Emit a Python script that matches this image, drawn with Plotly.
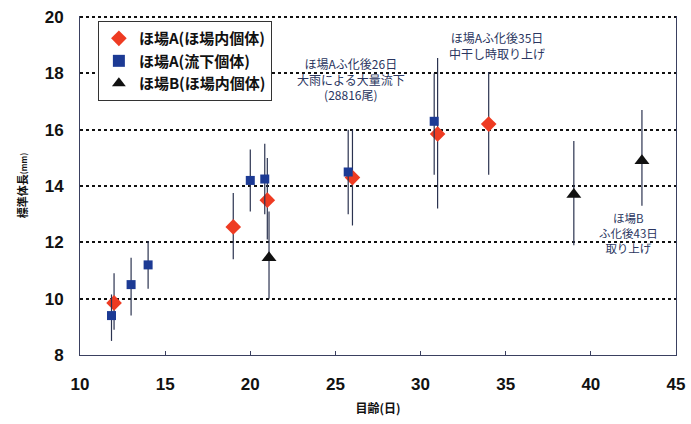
import plotly.graph_objects as go

# ---- data ----
a_in_x = [12.0, 19.0, 21.0, 26.0, 31.0, 34.0]
a_in_y = [9.85, 12.55, 13.5, 14.3, 15.85, 16.2]
a_in_hi = [10.9, 13.75, 15.0, 16.0, 18.55, 18.05]
a_in_lo = [8.9, 11.4, 12.1, 12.6, 13.2, 14.4]

a_out_x = [11.85, 13.0, 14.0, 20.0, 20.85, 25.75, 30.8]
a_out_y = [9.4, 10.5, 11.2, 14.2, 14.25, 14.5, 16.3]
a_out_hi = [10.15, 11.45, 12.05, 15.3, 15.5, 16.0, 18.0]
a_out_lo = [8.5, 9.4, 10.35, 13.1, 13.0, 13.0, 14.4]

b_x = [21.1, 39.0, 43.0]
b_y = [11.45, 13.7, 14.9]
b_hi = [13.1, 15.6, 16.7]
b_lo = [10.0, 11.9, 13.3]

names = ["ほ場A(ほ場内個体)", "ほ場A(流下個体)", "ほ場B(ほ場内個体)"]
x_ticks = [10, 15, 20, 25, 30, 35, 40, 45]
y_ticks = [8, 10, 12, 14, 16, 18, 20]

JP = "Noto Sans CJK JP"
ERR = "#2b3350"

def series(x, y, hi, lo, name, symbol, color, size):
    return go.Scatter(
        x=x, y=y, mode="markers", name=name,
        marker=dict(symbol=symbol, color=color, size=size, line=dict(width=0)),
        error_y=dict(type="data", symmetric=False,
                     array=[h - v for h, v in zip(hi, y)],
                     arrayminus=[v - l for v, l in zip(y, lo)],
                     color=ERR, thickness=1.2, width=0),
    )

fig = go.Figure()
fig.add_trace(series(a_in_x, a_in_y, a_in_hi, a_in_lo, "<b>" + names[0] + "</b>", "diamond", "#ee3b22", 12))
fig.add_trace(series(a_out_x, a_out_y, a_out_hi, a_out_lo, "<b>" + names[1] + "</b>", "square", "#1c3a94", 9))
fig.add_trace(series(b_x, b_y, b_hi, b_lo, "<b>" + names[2] + "</b>", "triangle-up", "#111111", 13))

ann_font = dict(family=JP, size=12, color="#2a3560")
fig.add_annotation(x=25.9, y=17.8, xref="x", yref="y", showarrow=False,
                   text="ほ場Aふ化後26日<br>大雨による大量流下<br>(28816尾)",
                   font=ann_font, align="center")
fig.add_annotation(x=34.5, y=19.0, xref="x", yref="y", showarrow=False,
                   text="ほ場Aふ化後35日<br>中干し時取り上げ",
                   font=ann_font, align="center")
fig.add_annotation(x=42.2, y=12.33, xref="x", yref="y", showarrow=False,
                   text="ほ場B<br>ふ化後43日<br>取り上げ",
                   font=dict(family=JP, size=11.5, color="#2a3560"), align="center")

fig.update_layout(
    width=691, height=424,
    margin=dict(l=80, r=15, t=16, b=69, autoexpand=False),
    paper_bgcolor="white", plot_bgcolor="white",
    showlegend=True,
    legend=dict(x=0.03, y=0.985, xanchor="left", yanchor="top",
                bordercolor="#333", borderwidth=1, bgcolor="white",
                font=dict(family=JP, size=15, color="#111"),
                tracegroupgap=0, itemsizing="constant", itemwidth=30),
    xaxis=dict(range=[10, 45], tickvals=x_ticks, ticktext=[f"<b>{t}</b>" for t in x_ticks],
               showgrid=False, zeroline=False, automargin=False, ticklabeloverflow="allow",
               showline=True, linecolor="#3a4060", linewidth=1,
               ticks="inside", ticklen=4, tickcolor="#3a4060", ticklabelstandoff=14,
               tickfont=dict(family="Liberation Sans", size=17, color="#111"),
               title=dict(text="<b>目齢(日)</b>", font=dict(family=JP, size=12, color="#111"),
                          standoff=11)),
    yaxis=dict(range=[8, 20.04], tickvals=y_ticks, ticktext=[f"<b>{t}</b>" for t in y_ticks],
               showgrid=True, gridcolor="#111", griddash="dot", gridwidth=1.6,
               zeroline=False, automargin=False, ticklabeloverflow="allow",
               showline=True, linecolor="#3a4060", linewidth=1, mirror=True,
               ticks="", ticklabelstandoff=12,
               tickfont=dict(family="Liberation Sans", size=17, color="#111"),
               title=dict(text="<b>標準体長</b><span style='font-size:8px'><b>(mm)</b></span>",
                          font=dict(family=JP, size=11, color="#111"), standoff=14)),
)

fig.write_html("out.html", config={"displayModeBar": False},
               post_script="document.body.style.margin='0px';document.body.style.overflow='hidden';")
